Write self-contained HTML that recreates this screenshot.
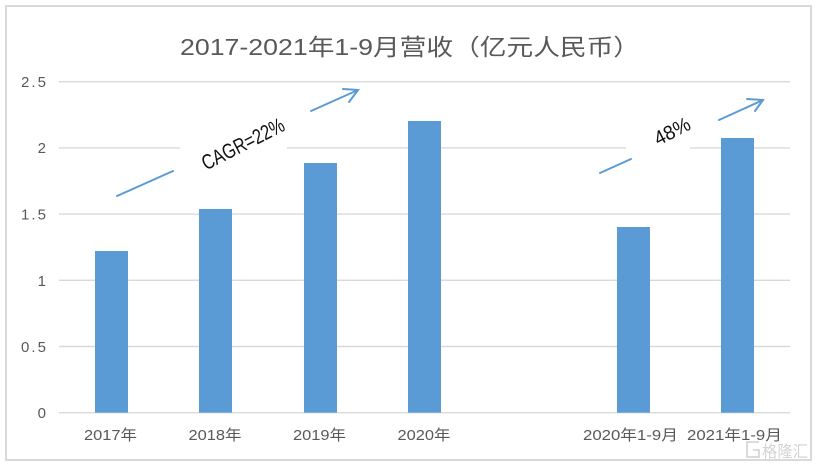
<!DOCTYPE html>
<html><head><meta charset="utf-8"><style>
html,body{margin:0;padding:0;background:#fff;}
svg{display:block;}
</style></head><body>
<svg width="819" height="466" viewBox="0 0 819 466" xmlns="http://www.w3.org/2000/svg">
<rect x="0" y="0" width="819" height="466" fill="#fff"/>
<rect x="6" y="6" width="805" height="454" fill="#fff" stroke="#d9d9d9" stroke-width="2"/>
<text x="410" y="55" text-anchor="middle" font-family="Liberation Sans, Noto Sans CJK SC, sans-serif" font-size="23" fill="#595959" textLength="460" lengthAdjust="spacingAndGlyphs">2017-2021年1-9月营收（亿元人民币）</text>
<g stroke="#d9d9d9" stroke-width="1.4">
<line x1="59" y1="81.7" x2="790" y2="81.7"/>
<line x1="59" y1="147.9" x2="180" y2="147.9"/>
<line x1="287" y1="147.9" x2="626" y2="147.9"/>
<line x1="690" y1="147.9" x2="790" y2="147.9"/>
<line x1="59" y1="214.1" x2="790" y2="214.1"/>
<line x1="59" y1="280.3" x2="790" y2="280.3"/>
<line x1="59" y1="346.5" x2="790" y2="346.5"/>
<line x1="59" y1="412.7" x2="790" y2="412.7"/>
</g>
<g fill="#5b9bd5">
<rect x="95" y="251" width="33" height="161.7"/>
<rect x="199" y="209" width="33" height="203.7"/>
<rect x="304" y="163" width="33" height="249.7"/>
<rect x="408" y="121" width="33" height="291.7"/>
<rect x="617" y="227" width="33" height="185.7"/>
<rect x="721" y="138" width="33" height="274.7"/>
</g>
<g font-family="Liberation Sans, sans-serif" font-size="15" fill="#595959" text-anchor="end">
<text x="46" y="87" textLength="25" lengthAdjust="spacing">2.5</text>
<text x="46" y="153">2</text>
<text x="46" y="219.5" textLength="25" lengthAdjust="spacing">1.5</text>
<text x="46" y="286">1</text>
<text x="46" y="352" textLength="25" lengthAdjust="spacing">0.5</text>
<text x="46" y="418">0</text>
</g>
<g font-family="Liberation Sans, Noto Sans CJK SC, sans-serif" font-size="15" fill="#595959" text-anchor="middle">
<text x="110.5" y="440" textLength="53" lengthAdjust="spacingAndGlyphs">2017年</text>
<text x="215" y="440" textLength="53" lengthAdjust="spacingAndGlyphs">2018年</text>
<text x="319.5" y="440" textLength="53" lengthAdjust="spacingAndGlyphs">2019年</text>
<text x="424" y="440" textLength="53" lengthAdjust="spacingAndGlyphs">2020年</text>
<text x="630.5" y="440" textLength="95" lengthAdjust="spacingAndGlyphs">2020年1-9月</text>
<text x="734.5" y="440" textLength="95" lengthAdjust="spacingAndGlyphs">2021年1-9月</text>
</g>
<g stroke="#5b9bd5" stroke-width="2" fill="none" stroke-linecap="round">
<line x1="117" y1="196" x2="173" y2="171"/>
<line x1="311" y1="111" x2="358" y2="90"/>
<polyline points="343,89 358,90 349,102"/>
<line x1="600" y1="173" x2="631" y2="159"/>
<line x1="719" y1="120" x2="763" y2="100"/>
<polyline points="747,99 763,100 755,111"/>
</g>
<text x="243" y="151" text-anchor="middle" font-family="Liberation Sans, sans-serif" font-size="21" fill="#111" textLength="90" lengthAdjust="spacingAndGlyphs" transform="rotate(-27 243 144)">CAGR=22%</text>
<text x="672" y="138" text-anchor="middle" font-family="Liberation Sans, sans-serif" font-size="20" fill="#111" textLength="38" lengthAdjust="spacingAndGlyphs" transform="rotate(-27 672 131)">48%</text>
<g fill="none" stroke="#cfcfcf" stroke-width="1.5">
<path d="M759,442 H747 V457 H759 V450 H753"/>
</g>
<text x="762" y="457" font-family="Noto Sans CJK SC, sans-serif" font-size="16" fill="#d3d3d3" textLength="46" lengthAdjust="spacingAndGlyphs">格隆汇</text>
</svg>
</body></html>
